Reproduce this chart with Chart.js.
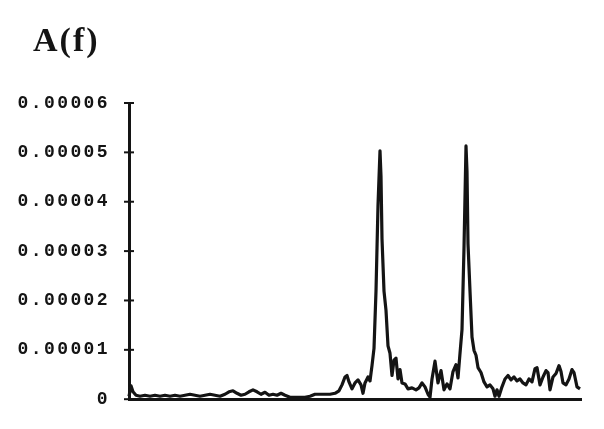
<!DOCTYPE html>
<html>
<head>
<meta charset="utf-8">
<script src="https://cdn.jsdelivr.net/npm/chart.js@4/dist/chart.umd.min.js"></script>
<style>
  html, body { margin: 0; padding: 0; background: #ffffff; }
  #wrap { width: 604px; height: 429px; position: relative; }
</style>
</head>
<body>
<div id="wrap"><canvas id="chart"></canvas></div>
<script>
// frequency index (arbitrary units, no labels on the x axis)
const freq = [
  0, 2, 4, 7, 11, 16, 21, 26, 31, 36,
  41, 46, 51, 56, 61, 66, 71, 76, 81, 86,
  91, 96, 100, 104, 108, 112, 116, 120, 124, 128,
  132, 136, 140, 144, 148, 152, 156, 161, 166, 171,
  176, 181, 186, 191, 196, 201, 206, 210, 213, 216,
  218, 220, 223, 226, 229, 232, 234, 236, 239, 241,
  243, 245, 247, 249, 251, 252, 253, 255, 257, 259,
  261, 263, 265, 267, 269, 271, 273, 276, 279, 283,
  287, 290, 293, 296, 299, 301, 303, 306, 309, 312,
  315, 318, 321, 324, 327, 329, 331, 333, 335, 337,
  338, 339, 341, 343, 345, 347, 349, 352, 355, 358,
  361, 364, 366, 368, 370, 373, 376, 379, 382, 385,
  388, 391, 394, 397, 400, 403, 406, 408, 411, 414,
  417, 419, 421, 424, 427, 430, 432, 434, 437, 440,
  443, 445, 448, 451
];

// A(f) in units of 1e-6
const amp = [
  0.6, 2.7, 1.5, 0.8, 0.6, 0.8, 0.6, 0.8, 0.6, 0.8,
  0.6, 0.8, 0.6, 0.8, 1.0, 0.8, 0.6, 0.8, 1.0, 0.8,
  0.6, 1.0, 1.5, 1.7, 1.2, 0.8, 1.0, 1.5, 1.9, 1.5,
  1.0, 1.4, 0.8, 1.0, 0.8, 1.2, 0.8, 0.4, 0.4, 0.4,
  0.4, 0.6, 1.0, 1.0, 1.0, 1.0, 1.2, 1.7, 2.9, 4.5,
  4.8, 3.5, 2.1, 3.3, 3.9, 2.9, 1.2, 3.3, 4.5, 3.7,
  6.8, 10.3, 21.9, 39.3, 50.3, 45.1, 32.5, 21.9, 18.0, 10.8,
  9.3, 4.8, 7.9, 8.3, 4.1, 6.0, 3.3, 3.1, 2.1, 2.3,
  1.9, 2.3, 3.3, 2.5, 1.0, 0.4, 4.1, 7.7, 3.3, 5.8,
  1.9, 3.1, 2.1, 5.6, 7.0, 4.3, 9.3, 14.1, 30.6, 51.3,
  46.1, 31.5, 21.9, 12.6, 9.9, 8.9, 6.4, 5.4, 3.5, 2.5,
  2.9, 2.1, 0.6, 1.9, 0.6, 2.5, 4.1, 4.8, 3.9, 4.5,
  3.7, 4.1, 3.3, 2.9, 4.1, 3.5, 6.2, 6.4, 2.9, 4.5,
  5.8, 5.4, 1.9, 4.5, 5.2, 6.8, 5.6, 3.3, 2.9, 4.1,
  6.0, 5.4, 2.5, 2.1
];

const yTickLabels = ['0', '0.00001', '0.00002', '0.00003', '0.00004', '0.00005', '0.00006'];
const titleText = 'A(f)';

const ink = '#141414';

// wide spacing like the typewriter-ish labels in the scan
const spacingPlugin = {
  id: 'spacing',
  beforeDraw(chart) { chart.ctx.letterSpacing = '2.4px'; },
  afterDraw(chart) { chart.ctx.letterSpacing = '0px'; }
};

// "A(f)" sits above the axis labels, not flush with the canvas edge
const cornerTitle = {
  id: 'cornerTitle',
  afterDraw(chart) {
    const ctx = chart.ctx;
    ctx.save();
    ctx.letterSpacing = '2px';
    ctx.fillStyle = ink;
    ctx.font = "bold 34px 'Liberation Serif', serif";
    ctx.textAlign = 'left';
    ctx.textBaseline = 'alphabetic';
    ctx.fillText(titleText, 33, 51);
    ctx.restore();
  }
};

// tick marks crossing the y axis on both sides
const crossTicks = {
  id: 'crossTicks',
  afterDatasetsDraw(chart) {
    const ys = chart.scales.y;
    const ctx = chart.ctx;
    const x0 = ys.right;
    ctx.save();
    ctx.strokeStyle = ink;
    ctx.lineWidth = 2;
    ys.ticks.forEach((t, i) => {
      const py = ys.getPixelForTick(i);
      ctx.beginPath();
      ctx.moveTo(x0 - 5, py);
      ctx.lineTo(x0 + 5, py);
      ctx.stroke();
    });
    ctx.restore();
  }
};

new Chart(document.getElementById('chart'), {
  type: 'line',
  data: {
    datasets: [{
      data: freq.map((f, i) => ({ x: f, y: amp[i] })),
      borderColor: ink,
      borderWidth: 3.2,
      borderJoinStyle: 'round',
      pointRadius: 0,
      tension: 0,
      fill: false,
      clip: false
    }]
  },
  options: {
    responsive: true,
    maintainAspectRatio: false,
    animation: false,
    layout: { padding: { left: 0, right: 23, top: 103, bottom: 0 } },
    plugins: {
      legend: { display: false },
      tooltip: { enabled: false },
      title: { display: false }
    },
    scales: {
      x: {
        type: 'linear',
        min: 0,
        max: 452,
        ticks: { display: false },
        grid: { display: false },
        border: { display: true, color: ink, width: 3 },
        afterFit(scale) { scale.height = 16; }
      },
      y: {
        min: 0,
        max: 60,
        ticks: {
          stepSize: 10,
          padding: 19,
          color: ink,
          font: { family: "'Liberation Mono', monospace", size: 18, weight: 'bold' },
          callback: (v) => yTickLabels[Math.round(v / 10)]
        },
        grid: { display: false, drawTicks: false },
        border: { display: true, color: ink, width: 3 },
        afterFit(scale) { scale.width = 129; }
      }
    }
  },
  plugins: [spacingPlugin, crossTicks, cornerTitle]
});
</script>
</body>
</html>
